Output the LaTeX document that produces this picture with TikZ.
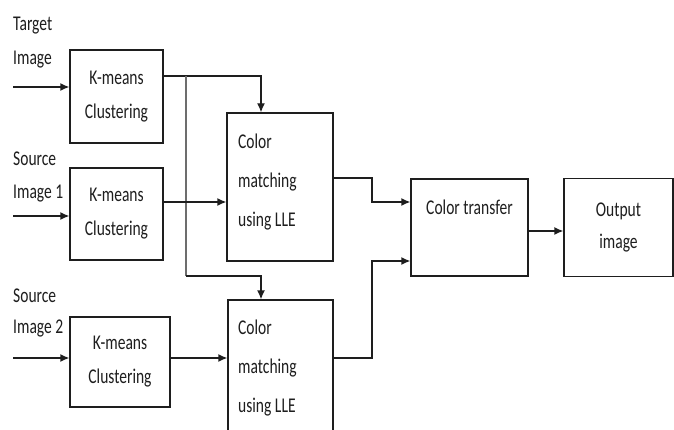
\documentclass[tikz,border=0pt]{standalone}
\usepackage{fontspec}
\setmainfont[FakeStretch=0.74]{Carlito}
\usetikzlibrary{arrows.meta}
\definecolor{ink}{RGB}{30,30,30}
\begin{document}
\begin{tikzpicture}[x=1pt,y=-1pt,
  box/.style={draw=ink, line width=1.3pt, rectangle, inner sep=0pt},
  txt/.style={font=\fontsize{21}{34}\selectfont, text=ink},
  conn/.style={draw=ink, line width=1.3pt},
  arr/.style={conn, -{Latex[length=9pt,width=8pt]}},
]
\useasboundingbox (0,0) rectangle (674,430);
\clip (0,0) rectangle (674,430);
\fill[white] (0,0) rectangle (674,430);

% input labels
\node[txt, anchor=base west, inner sep=0pt] (lt1) at (13,31) {Target};
\node[txt, anchor=base west, inner sep=0pt] (lt2) at (13,65) {Image};
\node[txt, anchor=base west, inner sep=0pt] (ls1) at (13,166) {Source};
\node[txt, anchor=base west, inner sep=0pt] (ls2) at (13,199) {Image 1};
\node[txt, anchor=base west, inner sep=0pt] (lr1) at (13,302) {Source};
\node[txt, anchor=base west, inner sep=0pt] (lr2) at (13,333) {Image 2};

% K-means boxes
\node[box, txt, minimum width=93pt, minimum height=93pt, align=center] (km1) at (116.5,96.5) {K-means\\Clustering};
\node[box, txt, minimum width=93pt, minimum height=92pt, align=center] (km2) at (116.5,214) {K-means\\Clustering};
\node[box, txt, minimum width=100pt, minimum height=90pt, align=center] (km3) at (120,362) {K-means\\Clustering};

% colour matching boxes
\node[box, minimum width=106pt, minimum height=148pt] (cm1) at (280,187) {};
\node[txt, anchor=west, align=left, inner sep=0pt, font=\fontsize{21}{39}\selectfont] (cm1t) at (238,182) {Color\\matching\\using LLE};
\node[box, minimum width=105pt, minimum height=150pt] (cm2) at (280.5,375) {};
\node[txt, anchor=west, align=left, inner sep=0pt, font=\fontsize{21}{39}\selectfont] (cm2t) at (238,368) {Color\\matching\\using LLE};

% colour transfer and output
\node[box, minimum width=117pt, minimum height=97pt] (ct) at (469.5,227.5) {};
\node[txt, inner sep=0pt] (ctt) at (469.5,207) {Color transfer};
\node[box, txt, minimum width=109pt, minimum height=98pt, align=center, font=\fontsize{21}{32}\selectfont] (out) at (618.5,227.5) {Output\\image};

% inputs
\coordinate (i1) at (13,87);
\coordinate (i2) at (13,216);
\coordinate (i3) at (13,358);
\draw[arr] (i1) -- (i1 -| km1.west);
\draw[arr] (i2) -- (i2 -| km2.west);
\draw[arr] (i3) -- (i3 -| km3.west);

% K-means 1 feeds both matching boxes
\coordinate (j1) at (186,76);
\coordinate (d1) at (261,76);
\coordinate (j2) at (186,276);
\coordinate (d2) at (261,276);
\draw[arr] (km1.east |- j1) -- (d1) -- (d1 |- cm1.north);
\draw[conn, draw=ink!65] (j1) -- (j2);
\draw[arr] (j2) -- (d2) -- (d2 |- cm2.north);

% K-means 2 and 3
\coordinate (a2) at (163,202);
\coordinate (a3) at (170,358);
\draw[arr] (km2.east |- a2) -- (cm1.west |- a2);
\draw[arr] (km3.east |- a3) -- (cm2.west |- a3);

% matching to transfer
\coordinate (b1) at (372,178);
\coordinate (b2) at (372,202);
\coordinate (b3) at (372,358);
\coordinate (b4) at (372,261);
\draw[arr] (cm1.east |- b1) -- (b1) -- (b2) -- (ct.west |- b2);
\draw[arr] (cm2.east |- b3) -- (b3) -- (b4) -- (ct.west |- b4);

% transfer to output
\coordinate (c1) at (528,231);
\draw[arr] (ct.east |- c1) -- (out.west |- c1);
\end{tikzpicture}
\end{document}
